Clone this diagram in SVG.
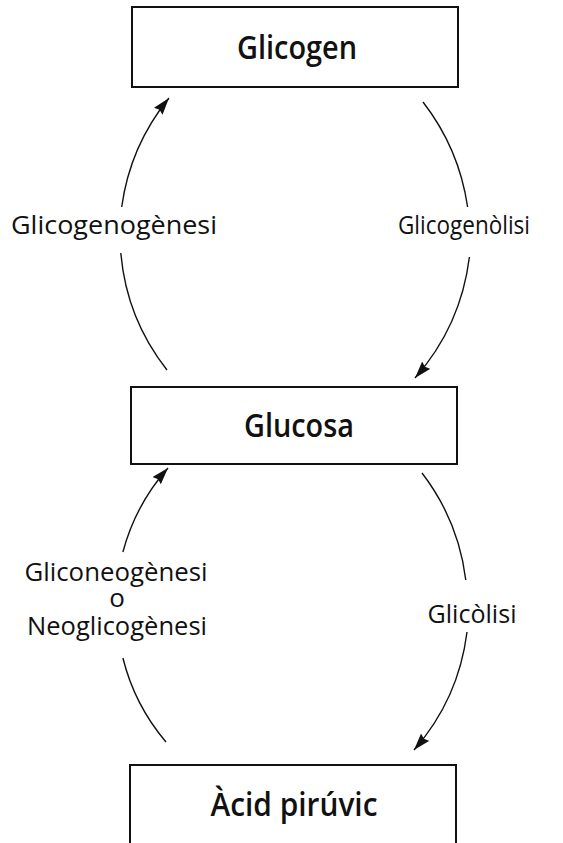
<svg xmlns="http://www.w3.org/2000/svg" width="563" height="843" viewBox="0 0 563 843">
<style>
.box{fill:#fff;stroke:#111;stroke-width:2}
.title{font-family:"Open Sans","Liberation Sans",sans-serif;font-weight:600;font-size:33px;fill:#111;text-anchor:middle}
.lbl{font-family:"Open Sans","Liberation Sans",sans-serif;font-weight:400;font-size:26px;fill:#111;text-anchor:middle}
.arc{fill:none;stroke:#111;stroke-width:1.4}
</style>
<defs>
<marker id="ah" markerWidth="18" markerHeight="12" refX="17" refY="5.5" orient="auto" markerUnits="userSpaceOnUse">
<path d="M0,0 L17,5.5 L0,11 L2,5.5 z" fill="#111"/>
</marker>
</defs>
<rect width="563" height="843" fill="#fff"/>
<g id="node-glicogen">
<rect class="box" x="132" y="7" width="326" height="80"/>
<text class="title" x="297" y="59" textLength="120" lengthAdjust="spacingAndGlyphs">Glicogen</text>
</g>
<g id="node-glucosa">
<rect class="box" x="131" y="387" width="326" height="77"/>
<text class="title" x="299" y="437" textLength="110" lengthAdjust="spacingAndGlyphs">Glucosa</text>
</g>
<g id="node-acid">
<rect class="box" x="130" y="765" width="326" height="82"/>
<text class="title" x="294" y="816" textLength="167" lengthAdjust="spacingAndGlyphs">Àcid pirúvic</text>
</g>
<g id="connectors">
<path class="arc" d="M167,370 A220,220 0 0 1 120.8,253"/>
<path class="arc" d="M121.7,207 A220,220 0 0 1 169,98" marker-end="url(#ah)"/>
<path class="arc" d="M423,102 A224,224 0 0 1 467.6,207"/>
<path class="arc" d="M469.4,257 A224,224 0 0 1 415,378" marker-end="url(#ah)"/>
<path class="arc" d="M166,742 A207,207 0 0 1 122.9,658"/>
<path class="arc" d="M122.9,552 A207,207 0 0 1 168,468" marker-end="url(#ah)"/>
<path class="arc" d="M422,473 A220,220 0 0 1 465.8,580"/>
<path class="arc" d="M467,632 A220,220 0 0 1 414,750" marker-end="url(#ah)"/>
</g>
<g id="labels">
<text class="lbl" x="114" y="234" textLength="206" lengthAdjust="spacingAndGlyphs">Glicogenogènesi</text>
<text class="lbl" x="464" y="234" textLength="132" lengthAdjust="spacingAndGlyphs">Glicogenòlisi</text>
<text class="lbl" x="116" y="581" textLength="183" lengthAdjust="spacingAndGlyphs">Gliconeogènesi</text>
<text class="lbl" x="117" y="607">o</text>
<text class="lbl" x="117" y="635" textLength="180" lengthAdjust="spacingAndGlyphs">Neoglicogènesi</text>
<text class="lbl" x="472" y="623" textLength="89" lengthAdjust="spacingAndGlyphs">Glicòlisi</text>
</g>
</svg>
